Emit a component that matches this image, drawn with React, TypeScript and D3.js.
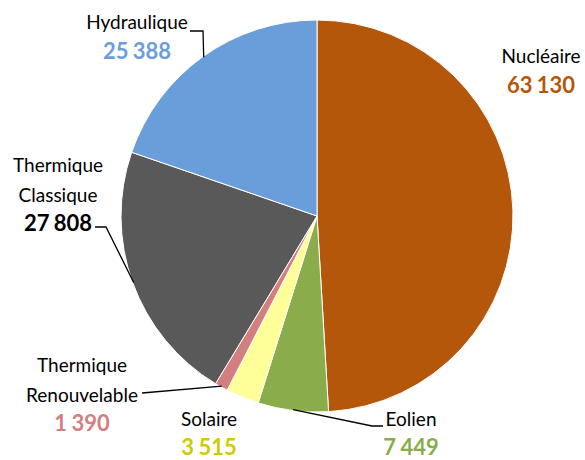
import React from "react";
import * as d3 from "d3";

const categories = ["Nucléaire", "Eolien", "Solaire", "Thermique Renouvelable", "Thermique Classique", "Hydraulique"];
const values = [63130, 7449, 3515, 1390, 27808, 25388];
const valueLabels = ["63 130", "7 449", "3 515", "1 390", "27 808", "25 388"];
const sliceColors = ["#B5570A", "#8BAC4A", "#FFFF99", "#D47F7F", "#595959", "#6A9EDB"];
const valueColors = ["#B5570A", "#8BAC4A", "#CCCC00", "#D47F7F", "#000000", "#6A9EDB"];
const nameLines = [["Nucléaire"], ["Eolien"], ["Solaire"], ["Thermique", "Renouvelable"], ["Thermique", "Classique"], ["Hydraulique"]];

// label layout: center x, baseline of first line
const labelPos = [
  { x: 541, y: 63 },
  { x: 411, y: 426 },
  { x: 209, y: 426 },
  { x: 82, y: 372 },
  { x: 58, y: 172 },
  { x: 137, y: 29 },
];

export default function App() {
  const W = 585, H = 460;
  const cx = 317, cy = 216, r = 196;
  const pie = d3.pie<number>().sort(null).value((d) => d);
  const arcs = pie(values);
  const arc = d3.arc<d3.PieArcDatum<number>>().innerRadius(0).outerRadius(r);
  const pt = (a: number, rr: number) => [cx + rr * Math.sin(a), cy - rr * Math.cos(a)];
  const font = "Lato, 'Open Sans', sans-serif";

  const mid = (i: number) => (arcs[i].startAngle + arcs[i].endAngle) / 2;
  const leaders: { pts: number[][]; i: number }[] = [
    { i: 1, pts: [[383, 426], [372, 426]] },
    { i: 3, pts: [[142, 393]] },
    { i: 4, pts: [[95, 227], [106, 227]] },
    { i: 5, pts: [[190, 31], [203, 31]] },
  ];

  return (
    <svg width={W} height={H} style={{ position: "absolute", left: 0, top: 0, background: "#fff" }}>
      <g transform={`translate(${cx},${cy})`}>
        {arcs.map((a, i) => (
          <path key={i} d={arc(a) || ""} fill={sliceColors[i]} stroke="#fff" strokeWidth={1} />
        ))}
      </g>
      {leaders.map((l, k) => {
        const end = pt(mid(l.i), r - 1);
        const all = [...l.pts, end];
        return (
          <polyline key={k} points={all.map((p) => p.join(",")).join(" ")} fill="none" stroke="#000" strokeWidth={1.3} />
        );
      })}
      {categories.map((c, i) => {
        const p = labelPos[i];
        const lines = nameLines[i];
        return (
          <g key={c} fontFamily={font} textAnchor="middle">
            {lines.map((t, j) => (
              <text key={j} x={p.x} y={p.y + j * 29.5} fontSize={19} fill="#000">{t}</text>
            ))}
            <text x={p.x} y={Math.min(p.y + lines.length * 29.5, 455)} fontSize={22} fontWeight="bold" wordSpacing={-1} fill={valueColors[i]}>
              {valueLabels[i]}
            </text>
          </g>
        );
      })}
    </svg>
  );
}
